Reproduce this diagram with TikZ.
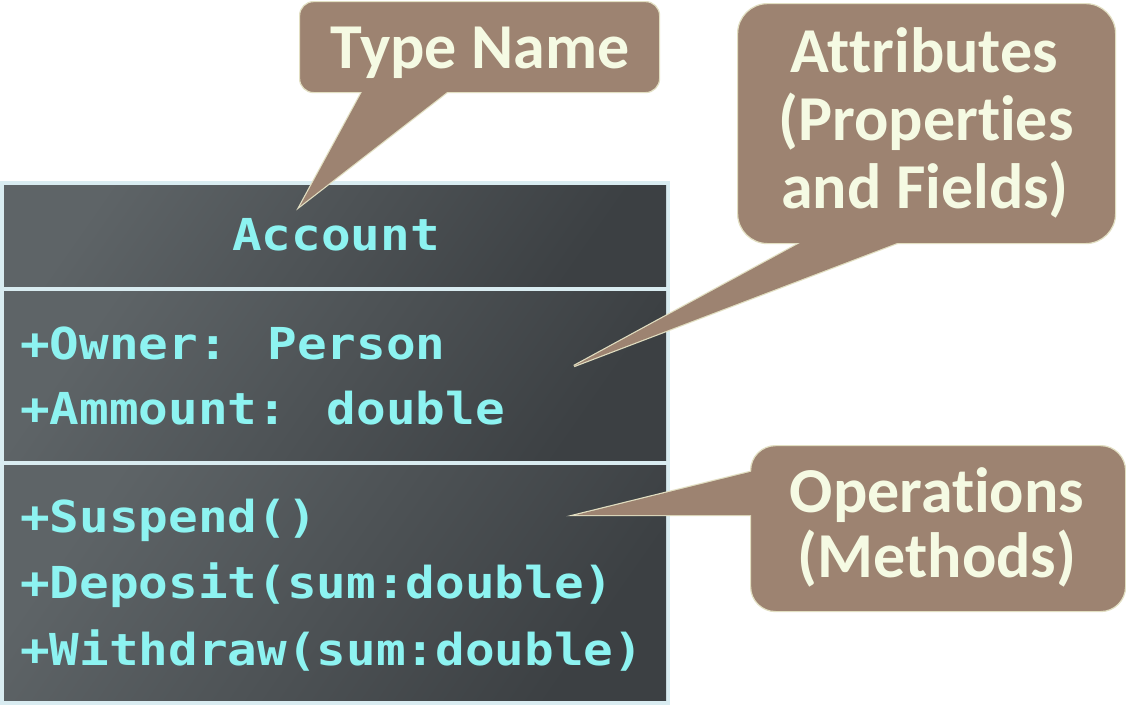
\documentclass[tikz,border=0pt]{standalone}
\usepackage{fontspec}
\newfontfamily\callfont[RawFeature={-liga;-clig;-calt;-dlig}]{Carlito}
\newfontfamily\umlmono[FakeStretch=1.12]{DejaVu Sans Mono}
\usetikzlibrary{calc}
\newcommand{\nolig}{\kern0pt{}}
\definecolor{calloutfill}{HTML}{9D8371}
\definecolor{calloutedge}{HTML}{E2DFC2}
\definecolor{callouttext}{HTML}{F5FAE3}
\definecolor{classborder}{HTML}{D9ECF1}
\definecolor{darkA}{HTML}{5E6467}
\definecolor{darkB}{HTML}{3C4043}
\definecolor{clscyan}{HTML}{8DF3F1}
\tikzset{
  compart/.style={top color=darkA, bottom color=darkB, shading angle=55, draw=none, inner sep=0, anchor=north west},
  clstext/.style={text=clscyan, font=\umlmono\bfseries\fontsize{44}{52}\selectfont, inner sep=0, anchor=base west},
  cbox/.style={fill=calloutfill, draw=calloutedge, line width=1.2, inner sep=0, anchor=north west},
  ptrline/.style={draw=calloutedge, line width=2.4},
  ptrfill/.style={fill=calloutfill},
  ctext/.style={text=callouttext, font=\callfont\bfseries\fontsize{64}{68}\selectfont, inner sep=0, anchor=base}
}
\begin{document}
\begin{tikzpicture}[x=1pt,y=1pt]
\fill[white] (0,0) rectangle (1126,-705);
\useasboundingbox (0,0) rectangle (1126,-705);

% class box
\node[fill=classborder, inner sep=0, minimum width=670, minimum height=524, anchor=north west] (cls) at (0,-181) {};
\node[compart, minimum width=662, minimum height=101] (hdr) at (4,-185) {};
\node[compart, minimum width=662, minimum height=169] (attrs) at (4,-291) {};
\node[compart, minimum width=662, minimum height=235] (ops) at (4,-465) {};

\node[clstext, anchor=base] (tAccount) at (336,-250) {Account};
\node[clstext] (tOwner) at (20,-359) {+Owner: Person};
\node[clstext] (tAmount) at (20,-424) {+Ammount: double};
\node[clstext] (tSuspend) at (20,-532) {+Suspend()};
\node[clstext] (tDeposit) at (20,-598) {+Deposit(sum:double)};
\node[clstext] (tWithdraw) at (20,-665) {+Withdraw(sum:double)};

% pointer coordinates
\coordinate (tnTip) at (300,-206);
\coordinate (tnB1) at (368.5,-80);
\coordinate (tnB2) at (462.5,-80);
\coordinate (atTip) at (574,-366);
\coordinate (atB1) at (822.6,-230.7);
\coordinate (atB2) at (929.3,-230.7);
\coordinate (opTip) at (576,-515);
\coordinate (opB1) at (765,-468.3);
\coordinate (opB2) at (765,-515);

% pointer outlines
\path[ptrline] (tnTip) -- (tnB1) -- (tnB2) -- cycle;
\path[ptrline] (atTip) -- (atB1) -- (atB2) -- cycle;
\path[ptrline] (opTip) -- (opB1) -- (opB2) -- cycle;

% callout boxes
\node[cbox, rounded corners=14, minimum width=360, minimum height=91] (tnBox) at (299,-1) {};
\node[cbox, rounded corners=30, minimum width=378, minimum height=240] (atBox) at (737,-3) {};
\node[cbox, rounded corners=25, minimum width=375, minimum height=166] (opBox) at (750,-445) {};

% pointer fills
\path[ptrfill] (tnTip) -- (tnB1) -- (tnB2) -- cycle;
\path[ptrfill] (atTip) -- (atB1) -- (atB2) -- cycle;
\path[ptrfill] (opTip) -- (opB1) -- (opB2) -- cycle;

% callout texts
\node[ctext] (tnText) at (480,-68) {Type Name};
\node[ctext] (atText1) at (924,-72) {At\nolig t\nolig ributes};
\node[ctext] (atText2) at (926,-140) {(Propert\nolig ies};
\node[ctext] (atText3) at (925,-208) {and Fields)};
\node[ctext] (opText1) at (937,-512) {Operat\nolig ions};
\node[ctext] (opText2) at (937,-577) {(Methods)};
\end{tikzpicture}
\end{document}
